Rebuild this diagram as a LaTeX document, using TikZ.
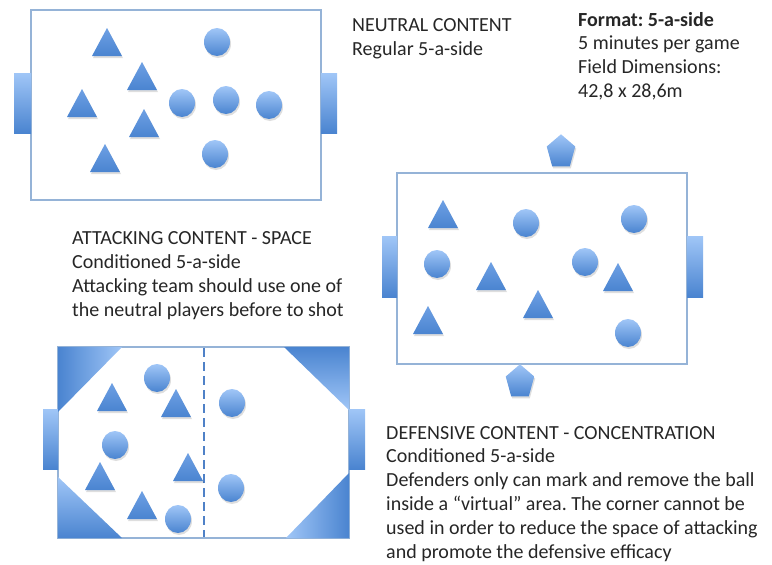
\documentclass[tikz,border=0pt]{standalone}
\usepackage{fontspec}
\setmainfont{Carlito}
\frenchspacing
\usetikzlibrary{shapes.geometric}

\definecolor{fieldline}{RGB}{149,179,215}
\definecolor{bluelight}{RGB}{160,198,247}
\definecolor{bluedark}{RGB}{74,132,208}
\definecolor{bluemid}{RGB}{110,160,228}
\definecolor{dashblue}{RGB}{79,129,199}
\definecolor{textc}{RGB}{38,38,38}

\tikzset{
  field/.style={draw=fieldline, line width=1.1pt, fill=white},
  goalbox/.style={top color=bluelight, bottom color=bluedark, draw=none},
  playershade/.style={top color=bluelight, bottom color=bluedark},
  trishade/.style={top color=bluemid, bottom color=bluedark},
  softshadow/.style={fill=black, opacity=0.13},
  % multi-line text, placed by the baseline of its last line
  txt/.style={font=\fontsize{20}{23.8}\selectfont, align=left, inner sep=0pt,
              text=textc, anchor=base west},
  % triangle player, apex at the pic origin
  pics/tri/.style={code={
    \fill[softshadow] (1,2) -- (16,30) -- (-14,30) -- cycle;
    \shade[trishade] (0,0) -- (15,28) -- (-15,28) -- cycle;
  }},
  % round player, centre at the pic origin
  pics/ball/.style={code={
    \fill[softshadow] (1,2) ellipse[x radius=13, y radius=14];
    \shade[playershade] (0,0) ellipse[x radius=13, y radius=14];
  }},
  % neutral player, centre at the pic origin
  pics/penta/.style={code={
    \fill[softshadow] ([shift={(1,2)}]-90:15 and 17.7) -- ([shift={(1,2)}]-18:15 and 17.7)
      -- ([shift={(1,2)}]54:15 and 17.7) -- ([shift={(1,2)}]126:15 and 17.7)
      -- ([shift={(1,2)}]198:15 and 17.7) -- cycle;
    \shade[playershade] (-90:15 and 17.7) -- (-18:15 and 17.7) -- (54:15 and 17.7)
      -- (126:15 and 17.7) -- (198:15 and 17.7) -- cycle;
  }}
}

\begin{document}
\begin{tikzpicture}[x=1pt,y=-1pt]
\useasboundingbox (0,0) rectangle (772,565);

%% ---------- Neutral field (top left) ----------
\draw[field] (31,10) rectangle (321,200);
\shade[goalbox] (14,73) rectangle (31,133);
\shade[goalbox] (321,73) rectangle (337,133);
\pic at (107,28) {tri};
\pic at (142,62) {tri};
\pic at (82,89) {tri};
\pic at (144,109) {tri};
\pic at (105,144) {tri};
\pic at (217,42) {ball};
\pic at (182,103) {ball};
\pic at (226,100) {ball};
\pic at (269,105) {ball};
\pic at (215,154) {ball};

%% ---------- Attacking field (middle right) ----------
\draw[field] (397,173) rectangle (687,364);
\shade[goalbox] (382,236) rectangle (397,297);
\shade[goalbox] (687,236) rectangle (703,297);
\pic at (561,152) {penta};
\pic at (520,382) {penta};
\pic at (443,200) {tri};
\pic at (491,262) {tri};
\pic at (538,290) {tri};
\pic at (618,263) {tri};
\pic at (428,306) {tri};
\pic at (526,223) {ball};
\pic at (634,219) {ball};
\pic at (437,264) {ball};
\pic at (585,262) {ball};
\pic at (628,333) {ball};

%% ---------- Defensive field (bottom left) ----------
\draw[field] (58,347) rectangle (349,538);
\shade[goalbox] (43,409) rectangle (58,469);
\shade[goalbox] (349,409) rectangle (365,469);
% blocked corners
\shade[left color=bluedark, right color=bluelight] (58,347) -- (122,347) -- (58,412) -- cycle;
\shade[top color=bluedark, bottom color=bluelight] (284,347) -- (349,347) -- (349,410) -- cycle;
\shade[top color=bluelight, bottom color=bluedark] (58,477) -- (122,538) -- (58,538) -- cycle;
\shade[left color=bluelight, right color=bluedark] (349,473) -- (349,538) -- (286,538) -- cycle;
% halfway line
\draw[dashblue, line width=1.8pt, dash pattern=on 9pt off 5pt] (204,348) -- (204,537);
\pic at (112,383) {tri};
\pic at (176,389) {tri};
\pic at (188,453) {tri};
\pic at (100,462) {tri};
\pic at (142,491) {tri};
\pic at (157,378) {ball};
\pic at (232,403) {ball};
\pic at (115,445) {ball};
\pic at (231,488) {ball};
\pic at (178,519) {ball};

%% ---------- Texts ----------
\node[txt] (neutral) at (352,55.5) {NEUTRAL CONTENT\\Regular 5-a-side};
\node[txt] (format) at (578,97.5) {\textbf{Format: 5-a-side}\\5 minutes per game\\Field Dimensions:\\42,8 x 28,6m};
\node[txt] (attack) at (72,316) {ATTACKING CONTENT - SPACE\\Conditioned 5-a-side\\Attacking team should use one of\\the neutral players before to shot};
\node[txt] (defend) at (386,558) {DEFENSIVE CONTENT - CONCENTRATION\\Conditioned 5-a-side\\Defenders only can mark and remove the ball\\inside a “virtual” area. The corner cannot be\\used in order to reduce the space of attacking\\and promote the defensive efficacy};
\end{tikzpicture}
\end{document}
